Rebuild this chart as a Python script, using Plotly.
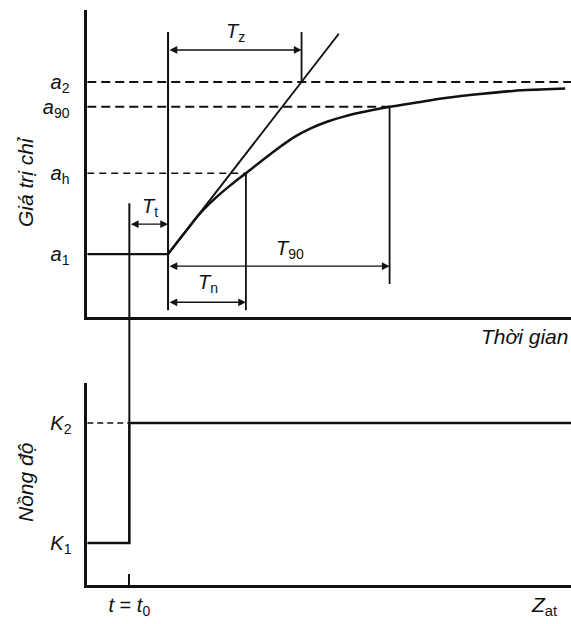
import plotly.graph_objects as go
from plotly.subplots import make_subplots

# ---- data (schematic values) ----
t_range = [0, 100]
t0 = 8.7          # concentration step
t_start = 16.7    # start of indicator response
t_n_end = 32.8
t_z_end = 44.3
t_90_end = 62.5

a1, ah, a90, a2 = 2.0, 4.35, 6.28, 7.0
K1, K2 = 1.0, 4.0

curve_t = [16.7, 20.4, 23.5, 26.6, 29.7, 32.8, 37.9, 42.7, 46.2, 49.7, 53.2,
           56.5, 62.5, 68.9, 74.4, 81.2, 88.0, 93.6, 98.8]
curve_a = [2.00, 2.67, 3.21, 3.64, 4.01, 4.35, 4.91, 5.39, 5.65, 5.85, 6.00,
           6.11, 6.28, 6.42, 6.54, 6.65, 6.74, 6.78, 6.81]

tangent_t = [16.7, 52.0]
tangent_a = [2.0, 8.40]

step_t = [0, t0, t0, 100]
step_K = [K1, K1, K2, K2]

# arrow levels / guide extents (value axis)
lvl_Tz, lvl_Tl, lvl_T90, lvl_Tn = 7.93, 2.87, 1.65, 0.60
top_guides = 8.45
low_guides = 0.37
t90_low = 1.13
t0_top = 3.48

y1_range = [0.18, 9.09]
y2_range = [-0.044, 5.0]

# ---- page geometry (body margin removed by post_script) ----
OFF = 0
W, H = 571, 624

def px_x(p):
    return (p - OFF) / W

def px_y(p):
    return 1 - (p - OFF) / H

dom_x = [px_x(87.25), 1.0]
dom1 = [px_y(316.75), px_y(10)]
dom2 = [px_y(584.75), px_y(383)]

FONT = "Liberation Sans, Arial, sans-serif"
BLACK = "#111111"

fig = make_subplots(rows=2, cols=1)

def line(xs, ys, row, width=2.2, dash=None, shape="linear"):
    fig.add_trace(go.Scatter(x=xs, y=ys, mode="lines",
                             line=dict(color=BLACK, width=width, dash=dash, shape=shape),
                             hoverinfo="skip", showlegend=False), row=row, col=1)

# top panel
line([t_range[0], t_start], [a1, a1], 1)
line([t_range[0], t_range[1]], [a2, a2], 1, width=1.9, dash="9px,5px")
line([t_range[0], t_90_end], [a90, a90], 1, width=1.9, dash="9px,5px")
line([t_range[0], t_n_end], [ah, ah], 1, width=1.6, dash="7px,5px")
line([t_start, t_start], [low_guides, top_guides], 1, width=2)
line([t_z_end, t_z_end], [a2, top_guides], 1, width=1.8)
line([t_n_end, t_n_end], [low_guides, ah], 1, width=1.8)
line([t_90_end, t_90_end], [t90_low, a90], 1, width=1.8)
line(tangent_t, tangent_a, 1, width=1.9)
line(curve_t, curve_a, 1, width=2.5, shape="spline")

# bottom panel
line([t_range[0], t0], [K2, K2], 2, width=1.6, dash="6px,4px")
line(step_t, step_K, 2, width=2.6)

def paper_y(v, rng, dom):
    return dom[0] + (v - rng[0]) / (rng[1] - rng[0]) * (dom[1] - dom[0])

shapes = [dict(type="line", xref="x", yref="paper", x0=t0, x1=t0,
               y0=paper_y(K2, y2_range, dom2), y1=paper_y(t0_top, y1_range, dom1),
               line=dict(color=BLACK, width=2))]

ann = []
def arrow(xa, xb, y):
    ann.append(dict(x=xb, y=y, ax=xa, ay=y, xref="x", yref="y", axref="x", ayref="y",
                    text="", showarrow=True, arrowside="end+start", arrowhead=2,
                    arrowsize=1.1, arrowwidth=1.4, arrowcolor=BLACK,
                    standoff=0, startstandoff=0))

arrow(t_start, t_z_end, lvl_Tz)
arrow(t0, t_start, lvl_Tl)
arrow(t_start, t_90_end, lvl_T90)
arrow(t_start, t_n_end, lvl_Tn)

def label(x, y, txt, size=20, xref="x", yref="y", **kw):
    d = dict(x=x, y=y, xref=xref, yref=yref, text=txt, showarrow=False,
             xanchor="center", yanchor="middle",
             font=dict(family=FONT, size=size, color=BLACK))
    d.update(kw)
    ann.append(d)

label(30.7, 8.45, "<i>T</i><sub>z</sub>")
label(12.9, 3.34, "<i>T</i><sub>t</sub>")
label(41.9, 2.12, "<i>T</i><sub>90</sub>")
label(24.9, 1.16, "<i>T</i><sub>n</sub>")
label(px_x(570), px_y(336), "<i>Thời gian</i>", size=21, xref="paper", yref="paper",
      xanchor="right")
label(px_x(25), px_y(182), "<i>Giá trị chỉ</i>", size=21, xref="paper", yref="paper",
      textangle=-90)
label(px_x(25), px_y(482), "<i>Nồng độ</i>", size=21, xref="paper", yref="paper",
      textangle=-90)
label(94.5, px_y(606), "<i>Z</i><sub>at</sub>", size=21, yref="paper", xref="x")

fig.update_layout(
    width=W, height=H, margin=dict(l=0, r=0, t=0, b=0),
    paper_bgcolor="white", plot_bgcolor="white",
    shapes=shapes, annotations=ann,
    font=dict(family=FONT, size=20, color=BLACK),
)

axis_common = dict(showgrid=False, zeroline=False, showline=True, linecolor=BLACK,
                   linewidth=2.5, mirror=False)
fig.update_xaxes(range=t_range, domain=dom_x, **axis_common)
fig.update_xaxes(showticklabels=False, ticks="", row=1, col=1)
fig.update_xaxes(tickvals=[t0], ticktext=["<i>t</i> = <i>t</i><sub>0</sub>"], ticks="inside",
                 ticklen=11, tickwidth=2, tickcolor=BLACK,
                 tickfont=dict(family=FONT, size=20, color=BLACK), row=2, col=1)
fig.update_yaxes(range=y1_range, domain=dom1, tickvals=[a1, ah, a90, a2],
                 ticktext=["<i>a</i><sub>1</sub>", "<i>a</i><sub>h</sub>",
                           "<i>a</i><sub>90</sub>", "<i>a</i><sub>2</sub>"],
                 ticks="", ticklabelstandoff=11,
                 tickfont=dict(family=FONT, size=20, color=BLACK), row=1, col=1, **axis_common)
fig.update_yaxes(range=y2_range, domain=dom2, tickvals=[K1, K2],
                 ticktext=["<i>K</i><sub>1</sub>", "<i>K</i><sub>2</sub>"],
                 ticks="", ticklabelstandoff=9,
                 tickfont=dict(family=FONT, size=20, color=BLACK), row=2, col=1, **axis_common)

fig.write_html("out.html", config={"displayModeBar": False},
               post_script="document.body.style.margin='0px';document.body.style.overflow='hidden';")
